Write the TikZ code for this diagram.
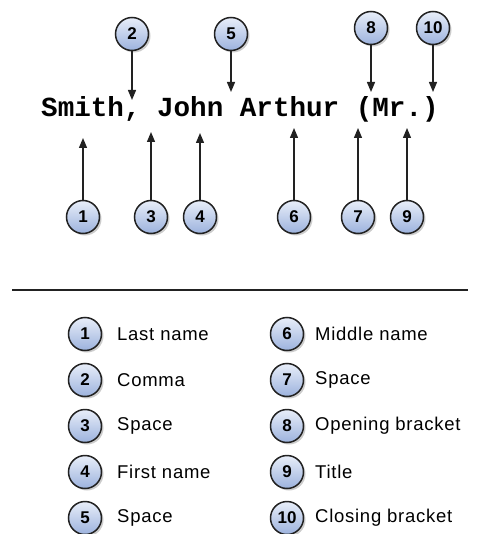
\documentclass[tikz,border=0pt]{standalone}
\usepackage{fontspec}
\setmainfont{Liberation Sans}
\newfontfamily\monobold{Liberation Mono}
\newfontfamily\legfont[LetterSpace=4]{Liberation Sans}
\usetikzlibrary{arrows.meta,shadows}
\definecolor{circtop}{HTML}{E8EEF9}
\definecolor{circbot}{HTML}{9CB2DD}
\definecolor{edgecol}{HTML}{222222}
\tikzset{
  num/.style={circle, draw=edgecol, line width=1.5pt, minimum size=33pt, inner sep=0pt,
    top color=circtop, bottom color=circbot,
    font=\fontsize{17}{17}\selectfont\bfseries,
    drop shadow={shadow xshift=2pt, shadow yshift=-2pt, fill=black, opacity=0.2}},
  pointer/.style={line width=1.3pt, draw=edgecol, -{Triangle[width=8pt,length=10pt]}},
  legtext/.style={anchor=west, inner sep=0pt, font=\legfont\fontsize{18.5}{19}\selectfont},
}
\begin{document}
\begin{tikzpicture}[x=1pt,y=-1pt]
\useasboundingbox[fill=white] (0,0) rectangle (480,534);
% main text
\node[anchor=base west, inner sep=0pt, font=\monobold\fontsize{27.6}{28}\selectfont\bfseries] (name) at (41,117) {Smith, John Arthur (Mr.)};
% top circles
\node[num] (t2) at (132,34) {2};
\node[num] (t5) at (231,34) {5};
\node[num] (t8) at (371,28) {8};
\node[num] (t10) at (433,28) {10};
\coordinate (e2) at (132,100);
\coordinate (e5) at (231,92);
\coordinate (e8) at (371,92);
\coordinate (e10) at (433,92);
\draw[pointer] (t2) -- (e2);
\draw[pointer] (t5) -- (e5);
\draw[pointer] (t8) -- (e8);
\draw[pointer] (t10) -- (e10);
% bottom circles
\node[num] (b1) at (83,217) {1};
\node[num] (b3) at (151,217) {3};
\node[num] (b4) at (200,217) {4};
\node[num] (b6) at (294,217) {6};
\node[num] (b7) at (358,217) {7};
\node[num] (b9) at (407,217) {9};
\coordinate (f1) at (83,138);
\coordinate (f3) at (151,132);
\coordinate (f4) at (200,133);
\coordinate (f6) at (294,128);
\coordinate (f7) at (358,128);
\coordinate (f9) at (407,128);
\draw[pointer] (b1) -- (f1);
\draw[pointer] (b3) -- (f3);
\draw[pointer] (b4) -- (f4);
\draw[pointer] (b6) -- (f6);
\draw[pointer] (b7) -- (f7);
\draw[pointer] (b9) -- (f9);
% separator
\coordinate (s1) at (12,290);
\coordinate (s2) at (468,290);
\draw[line width=1.2pt, edgecol] (s1) -- (s2);
% legend
\foreach \n/\y/\t in {1/334/Last name, 2/380/Comma, 3/426/Space, 4/472/First name, 5/518/Space}{
  \node[num] (l\n) at (85,\y) {\n};
  \node[legtext] (lt\n) at (117,\y) {\t};
}
\foreach \n/\y/\t in {6/334/Middle name, 7/380/Space, 8/426/Opening bracket, 9/472/Title, 10/518/Closing bracket}{
  \node[num] (l\n) at (287,\y) {\n};
  \node[legtext] (lt\n) at (315,\y) {\t};
}
\end{tikzpicture}
\end{document}
